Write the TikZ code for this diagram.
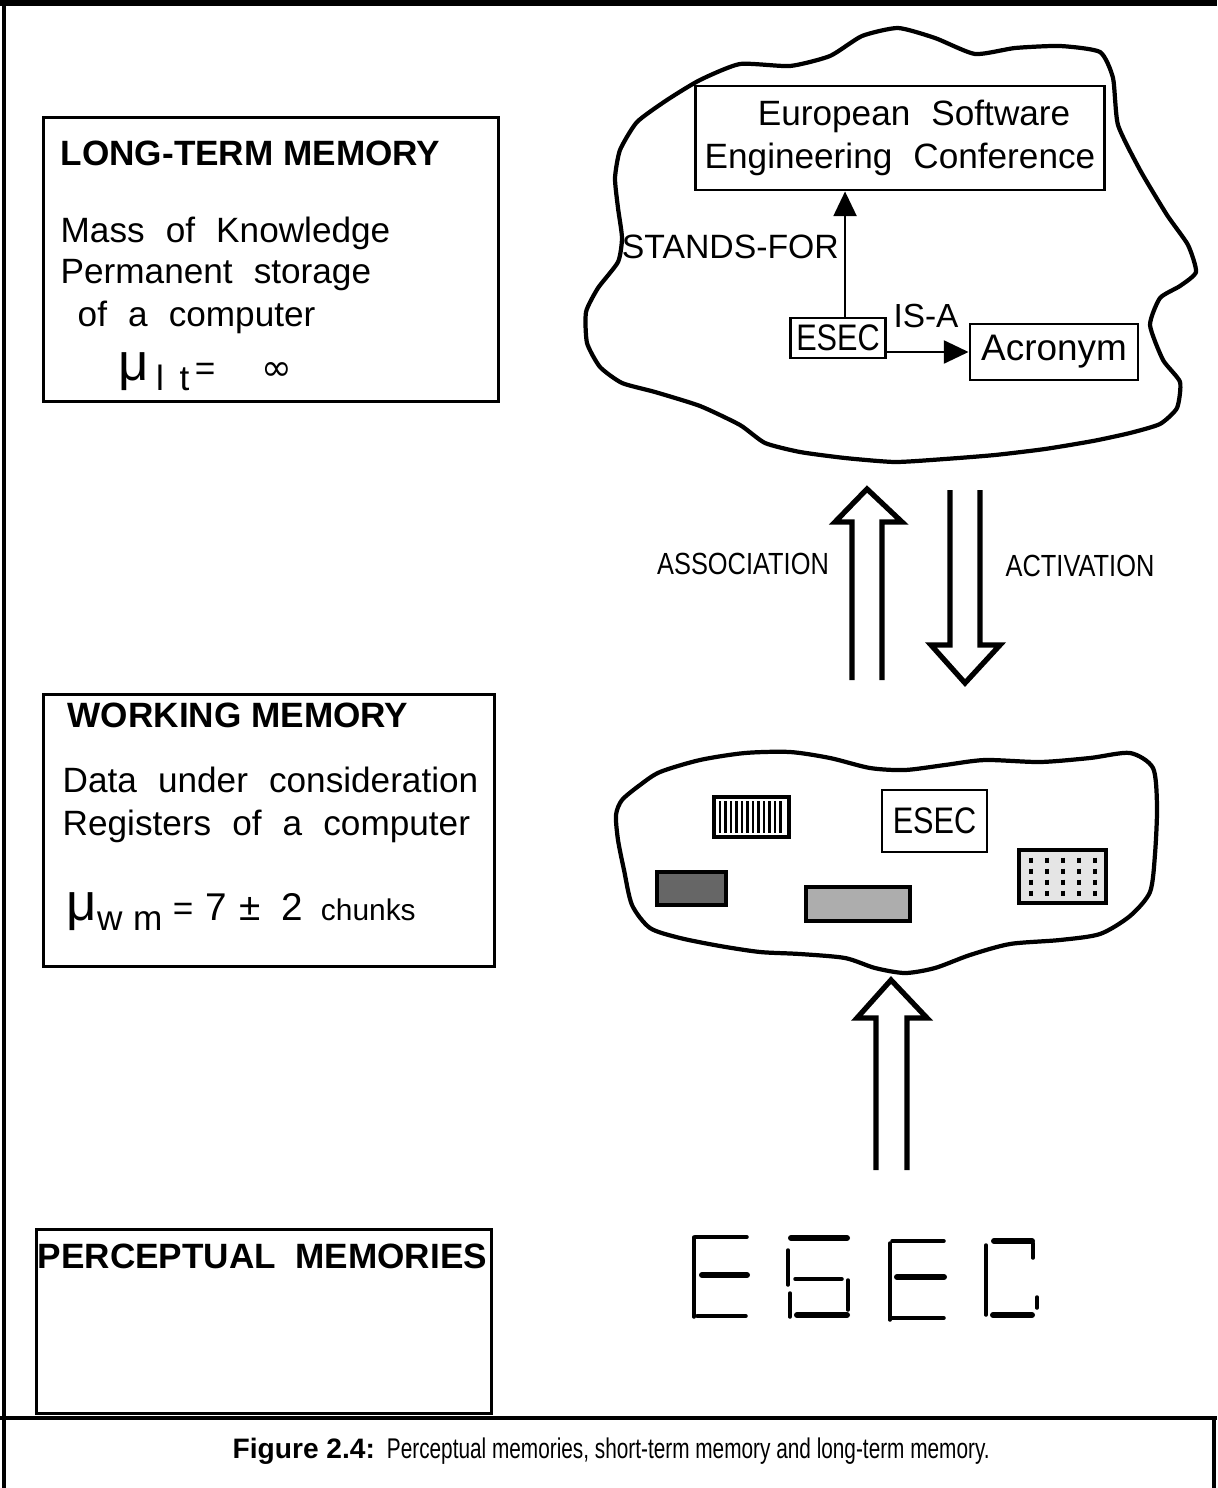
\documentclass[tikz,border=0pt]{standalone}
\usepackage{fontspec}
\setmainfont{Liberation Sans}
\newfontfamily\narrowfont[FakeStretch=0.83]{Liberation Sans}
\newfontfamily\capfont[FakeStretch=0.73]{Liberation Sans}
\newfontfamily\symfont{DejaVu Sans}
\usetikzlibrary{arrows.meta}

\begin{document}
\begin{tikzpicture}[x=0.01cm, y=-0.01cm,
        frame/.style={line width=1.2pt},
        membox/.style={draw, line width=0.8pt, inner sep=0pt, anchor=north west},
        head/.style={anchor=base west, inner sep=0pt, font=\fontsize{10}{12}\selectfont\bfseries},
        body/.style={anchor=base west, inner sep=0pt, font={\fontsize{10}{12.2}\selectfont\spaceskip=6pt plus 1pt\relax}},
        conc/.style={draw, line width=0.8pt, inner sep=0pt},
        link/.style={line width=0.7pt, -{Triangle[length=7pt,width=6.5pt]}},
        cloud/.style={line width=1.2pt, line join=round},
        hollow/.style={line width=1.5pt, line join=miter},
        narrow/.style={inner sep=0pt, font=\fontsize{8.7}{10}\narrowfont},
        chunk/.style={line width=1.3pt},
        seg/.style={line width=1pt, line cap=round},
        segb/.style={line width=1.7pt, line cap=round}]
        \useasboundingbox (0,0) rectangle (1217,1488);

        \draw[frame, line width=1.5pt] (0,3) -- (1217,3);
        \draw[frame, line width=0.9pt] (4,0) -- (4,1488);
        \draw[frame] (0,1418) -- (1217,1418);
        \draw[frame, line width=0.9pt] (1214,1418) -- (1214,1488);

        \node[membox, minimum width=4.55cm, minimum height=2.84cm] (ltm) at (42,116) {};
        \node[head] (ltmhead) at (60,166) {LONG-TERM MEMORY};
        \node[body] (ltmmass) at (60,242) {Mass of Knowledge};
        \node[body] (ltmperm) at (60,284) {Permanent storage};
        \node[body] (ltmcomp) at (77,326) {of a computer};
        \node[anchor=base west, inner sep=0pt, font=\fontsize{10}{12}\selectfont] (ltmmu) at (118,380)
            {{\fontsize{15}{15}\selectfont μ}\raisebox{-3pt}{\hspace{2pt}l\hspace{4.5pt}t}\hspace{1.5pt}=\hspace{13pt}{\symfont\fontsize{10.5}{10.5}\selectfont ∞}};

        \node[membox, minimum width=4.51cm, minimum height=2.72cm] (wm) at (42,693) {};
        \node[head] (wmhead) at (67,727) {WORKING MEMORY};
        \node[body] (wmdata) at (62,792) {Data under consideration};
        \node[body] (wmreg) at (62,835) {Registers of a computer};
        \node[anchor=base west, inner sep=0pt, font=\fontsize{10}{12}\selectfont] (wmmu) at (66,920)
            {{\fontsize{15}{15}\selectfont μ}\raisebox{-3pt}{w\hspace{3pt}m}\hspace{3pt}=\hspace{3.5pt}{\fontsize{11}{11}\selectfont 7\hspace{3.5pt}±\hspace{6pt}2}\hspace{5pt}{\fontsize{8.5}{10}\selectfont chunks}};

        \node[membox, minimum width=4.55cm, minimum height=1.84cm] (pm) at (35,1228) {};
        \node[head] (pmhead) at (37,1268) {PERCEPTUAL~~MEMORIES};

        \draw[cloud] plot[smooth cycle, tension=0.35] coordinates {(615,178) (620,150) (637,122) (667,100) (700,80)
            (740,64) (790,66) (830,56) (862,36) (898,28) (935,38) (975,54) (1015,48) (1060,46) (1100,52) (1113,78)
            (1118,125) (1140,170) (1167,215) (1188,245) (1196,272) (1180,286) (1160,298) (1150,325) (1163,360)
            (1180,382) (1177,408) (1160,424) (1130,433) (1093,441) (1045,449) (995,455) (945,459) (895,462)
            (845,458) (800,452) (765,443) (740,425) (700,406) (655,392) (622,383) (600,367) (587,343) (586,312)
            (598,288) (618,262) (622,238) (618,208)};

        \node[conc, minimum width=4.08cm, minimum height=1.04cm, align=center,
            font={\fontsize{10}{12.2}\selectfont\spaceskip=6pt plus 1pt\relax}] (conf) at (900,138)
            {\hspace*{8pt}European Software\\Engineering Conference};
        \node[conc, minimum width=0.95cm, minimum height=0.40cm, font=\fontsize{10.5}{12}\narrowfont] (esec) at (838,338) {ESEC};
        \node[conc, minimum width=1.68cm, minimum height=0.56cm, font=\fontsize{10.5}{12}\selectfont] (acr) at (1054,352) {Acronym};
        \draw[link] ([xshift=2pt]esec.north) -- ([xshift=2pt]esec.north |- conf.south);
        \draw[link] (esec.east |- acr.west) -- (acr.west);
        \node[anchor=east, inner sep=1pt, font=\fontsize{9.6}{11}\selectfont] (standsfor) at (843,247) {STANDS-FOR};
        \node[inner sep=0pt, font=\fontsize{9.5}{11}\selectfont] (isa) at (926,316) {IS-A};

        \draw[hollow] (852,680) -- (852,522) -- (835,522) -- (867,489) -- (902,522) -- (882,522) -- (882,680);
        \draw[hollow] (950,490) -- (950,645) -- (931,645) -- (965,683) -- (1000,645) -- (980,645) -- (980,490);
        \node[narrow] (assoc) at (743,564) {ASSOCIATION};
        \node[narrow] (activ) at (1080,566) {ACTIVATION};

        \draw[cloud] plot[smooth cycle, tension=0.45] coordinates {(622,800) (640,785) (660,772) (700,760) (745,753)
            (790,752) (830,758) (870,768) (905,770) (945,765) (985,760) (1040,762) (1090,758) (1130,753) (1153,768)
            (1157,806) (1155,854) (1150,892) (1130,916) (1100,934) (1060,940) (1010,944) (970,955) (935,968)
            (905,973) (875,968) (845,958) (800,954) (760,952) (720,946) (680,938) (650,928) (632,905) (624,870)
            (618,840) (616,815)};

        \draw[chunk, fill=white] (714,797) rectangle (789,837);
        \foreach \x in {720,725.5,...,785}
            \draw[line width=0.6pt] (\x,801) -- (\x,833);
        \node[conc, minimum width=1.05cm, minimum height=0.62cm, font=\fontsize{10.5}{12}\narrowfont] (esecwm) at (934.5,821) {ESEC};
        \draw[chunk, fill=black!60] (657,872) rectangle (726,905);
        \draw[chunk, fill=black!32] (806,887) rectangle (910,921);
        \draw[chunk, fill=black!10] (1019,850) rectangle (1106,903);
        \foreach \x in {1031,1047,1063,1079,1095}
            \foreach \y in {860,871,882,893}
                \draw[line width=1.2pt] (\x,\y-2.5) -- (\x,\y+2.5);

        \draw[hollow] (876,1170) -- (876,1018) -- (857,1018) -- (891,980) -- (927,1018) -- (907,1018) -- (907,1170);

        \draw[seg] (694,1237) -- (694,1317);
        \draw[seg] (695,1237) -- (747,1237);
        \draw[segb] (702,1275) -- (747,1275);
        \draw[seg] (697,1316) -- (746,1316);
        \draw[segb] (791,1238) -- (847,1238);
        \draw[seg] (788,1250) -- (788,1285);
        \draw[seg] (795,1279) -- (842,1279);
        \draw[seg] (848,1280) -- (848,1310);
        \draw[seg] (790,1293) -- (790,1317);
        \draw[segb] (797,1315) -- (847,1315);
        \draw[seg] (890,1243) -- (890,1320);
        \draw[seg] (892,1241) -- (944,1241);
        \draw[segb] (897,1277) -- (944,1277);
        \draw[seg] (892,1318) -- (944,1318);
        \draw[segb] (994,1241) -- (1032,1241);
        \draw[seg] (1033,1243) -- (1033,1258);
        \draw[seg] (986,1245) -- (986,1315);
        \draw[seg] (1037,1297) -- (1037,1308);
        \draw[segb] (993,1315) -- (1032,1315);

        \node[anchor=base west, inner sep=0pt, font=\fontsize{8}{10}\selectfont] (caption) at (232,1458)
            {\textbf{Figure 2.4:}\hspace{3.4pt}{\capfont\fontsize{8.1}{10}\selectfont Perceptual memories, short-term memory and long-term memory.}};
    \end{tikzpicture}
\end{document}
